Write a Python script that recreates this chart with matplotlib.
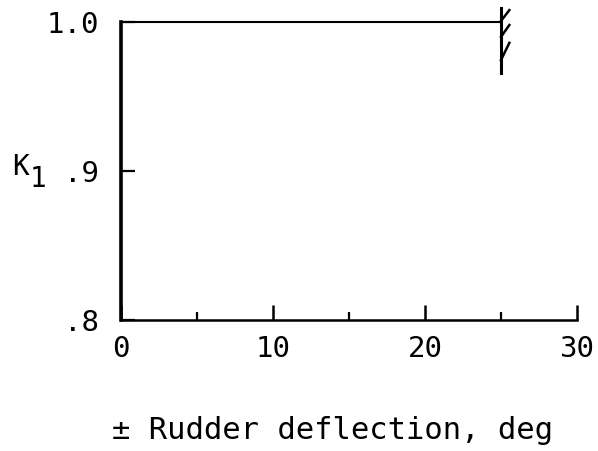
import matplotlib.pyplot as plt

# K1 factor against rudder deflection (constant up to the 25 deg limit)
deflection = [0, 25]
k1 = [1.0, 1.0]

x_ticks = [0, 10, 20, 30]
x_minor = [5, 15, 25]
y_ticks = [0.8, 0.9, 1.0]
y_labels = ['.8', '.9', '1.0']

mono = 'DejaVu Sans Mono'

fig = plt.figure(figsize=(5.98, 4.51), dpi=100)
ax = fig.add_axes([0.2023, 0.2905, 0.7626, 0.6607])

ax.plot(deflection, k1, color='black', lw=1.5, solid_capstyle='butt', clip_on=False)

# limit hatch at the end of the line
xe = deflection[-1]
ax.plot([xe, xe], [0.9655, 1.0095], color='black', lw=2.2, clip_on=False)
for y0, y1 in [(1.0007, 1.008), (0.990, 0.998), (0.9745, 0.986)]:
    ax.plot([xe, xe + 0.55], [y0, y1], color='black', lw=1.8, clip_on=False)

ax.set_xlim(0, 30)
ax.set_ylim(0.8, 1.0)

for s in ['top', 'right']:
    ax.spines[s].set_visible(False)
ax.spines['left'].set_linewidth(2.6)
ax.spines['bottom'].set_linewidth(1.8)

ax.set_xticks(x_ticks)
ax.set_xticks(x_minor, minor=True)
ax.set_yticks(y_ticks)
ax.set_yticklabels(y_labels)
ax.tick_params(axis='x', which='major', direction='in', length=11, width=1.8, pad=11,
               labelsize=21)
ax.tick_params(axis='x', which='minor', direction='in', length=6, width=1.6)
ax.tick_params(axis='y', direction='in', length=10, width=1.6, pad=16, labelsize=21)
for lab in ax.get_xticklabels() + ax.get_yticklabels():
    lab.set_family(mono)

fig.text(0.035, 0.630, 'K', fontsize=20, family=mono, va='center', ha='center')
fig.text(0.063, 0.603, '1', fontsize=20, family=mono, va='center', ha='center')

fig.text(0.556, 0.027, '± Rudder deflection, deg', fontsize=22, family=mono,
         ha='center', va='baseline')

fig.savefig('out.png', dpi=100)
